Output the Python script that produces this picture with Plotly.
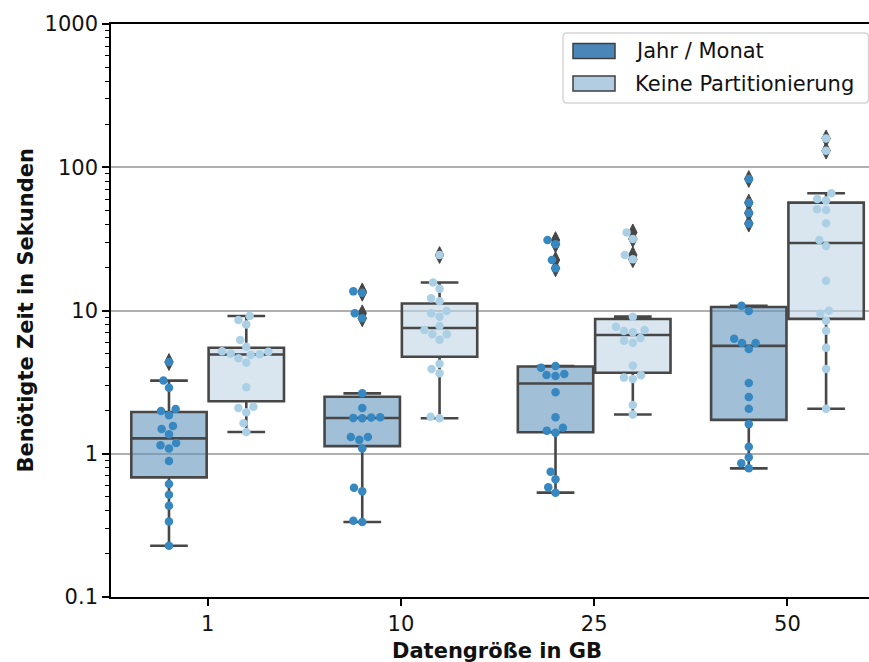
import numpy as np
import plotly.graph_objects as go

# ---------------- data ----------------
categories = ["1", "10", "25", "50"]
series_names = ["Jahr / Monat", "Keine Partitionierung"]

jahr_1gb = [0.228, 0.336, 0.434, 0.518, 0.615, 0.89, 1.09, 1.145, 1.19, 1.37,
            1.49, 1.56, 1.86, 1.99, 2.05, 2.89, 3.24, 4.37]
jahr_10gb = [0.334, 0.341, 0.547, 0.579, 1.09, 1.25, 1.31, 1.31, 1.77, 1.78,
             1.79, 1.80, 2.09, 2.64, 8.82, 9.56, 13.3, 13.6]
jahr_25gb = [0.535, 0.583, 0.664, 0.75, 1.40, 1.45, 1.52, 1.80, 2.69, 3.49,
             3.55, 3.60, 3.98, 4.10, 19.7, 22.5, 29.0, 31.0]
jahr_50gb = [0.791, 0.857, 0.945, 1.12, 1.61, 2.06, 2.49, 3.12, 5.39, 5.93,
             5.93, 6.36, 9.92, 10.8, 40.4, 47.9, 56.6, 82.8]

keine_1gb = [1.42, 1.63, 1.95, 2.09, 2.13, 2.91, 4.32, 4.64, 4.90, 4.95,
             5.00, 5.15, 5.20, 5.59, 6.22, 8.00, 8.58, 9.15]
keine_10gb = [1.77, 1.81, 3.65, 3.90, 4.25, 6.26, 6.82, 6.82, 7.31, 7.79,
              9.06, 9.57, 9.92, 11.6, 12.2, 14.2, 15.7, 24.4]
keine_25gb = [1.88, 2.19, 3.32, 3.40, 3.53, 4.12, 5.96, 6.15, 6.43, 7.05,
              7.19, 7.31, 7.70, 9.06, 22.8, 24.4, 31.6, 35.1]
keine_50gb = [2.06, 3.91, 5.50, 7.23, 8.49, 9.50, 9.97, 16.1, 28.2, 31.0,
              40.6, 50.3, 50.9, 58.5, 60.0, 65.8, 130.5, 159.0]

jahr_monat = [jahr_1gb, jahr_10gb, jahr_25gb, jahr_50gb]
keine_partitionierung = [keine_1gb, keine_10gb, keine_25gb, keine_50gb]

y_tick_values = [0.1, 1, 10, 100, 1000]

# ---------------- style ----------------
W, H = 869, 662
M_L, M_R, M_T, M_B = 111, 0, 24, 65
X_RANGE = [-0.5, 3.422]
Y_RANGE = [-1, 3]
PLOT_W = W - M_L - M_R
PLOT_H = H - M_T - M_B
PX_PER_UNIT = PLOT_W / (X_RANGE[1] - X_RANGE[0])
PX_PER_DECADE = PLOT_H / (Y_RANGE[1] - Y_RANGE[0])

FONT = "DejaVu Sans"
FS = 21
LINE_GRAY = "#474747"
DODGE = [-0.2, 0.2]
BOX_WIDTH = 0.39
POINT_COLORS = ["#3787c0", "#abd0e6"]
BOX_FILLS = ["rgba(98,150,190,0.6)", "rgba(192,213,228,0.6)"]
LEGEND_COLORS = ["#4a86b8", "#b2cde2"]
SWARM_D = 9.0  # px spacing of swarm points


def box_stats(vals):
    v = np.sort(np.asarray(vals, float))
    q1, med, q3 = np.percentile(v, [25, 50, 75])
    iqr = q3 - q1
    lo = v[v >= q1 - 1.5 * iqr].min()
    hi = v[v <= q3 + 1.5 * iqr].max()
    return q1, med, q3, lo, hi


def swarm_offsets(vals, d):
    y = np.log10(np.asarray(vals, float)) * PX_PER_DECADE
    order = np.argsort(y, kind="stable")
    placed = []
    offs = np.zeros(len(y))
    for i in order:
        yi = y[i]
        nb = [(px, py) for px, py in placed if abs(py - yi) < d]
        cands = [0.0]
        for px, py in nb:
            dx = np.sqrt(d * d - (py - yi) ** 2)
            cands += [px - dx, px + dx]
        cands.sort(key=abs)
        chosen = cands[-1]
        for c in cands:
            if all((c - px) ** 2 + (yi - py) ** 2 >= d * d - 1e-6 for px, py in nb):
                chosen = c
                break
        offs[i] = chosen
        placed.append((chosen, yi))
    return offs / PX_PER_UNIT


fig = go.Figure()

all_series = [jahr_monat, keine_partitionierung]

# boxes
for s, series in enumerate(all_series):
    stats = [box_stats(v) for v in series]
    fig.add_trace(go.Box(
        x=[i + DODGE[s] for i in range(len(categories))],
        q1=[st[0] for st in stats],
        median=[st[1] for st in stats],
        q3=[st[2] for st in stats],
        lowerfence=[st[3] for st in stats],
        upperfence=[st[4] for st in stats],
        width=BOX_WIDTH,
        whiskerwidth=0.5,
        fillcolor=BOX_FILLS[s],
        line=dict(color=LINE_GRAY, width=2.6),
        boxpoints=False,
        name=series_names[s],
        showlegend=False,
        hoverinfo="skip",
    ))

# outliers (diamonds)
for s, series in enumerate(all_series):
    ox, oy = [], []
    for i, vals in enumerate(series):
        q1, med, q3, lo, hi = box_stats(vals)
        for v in vals:
            if v > hi or v < lo:
                ox.append(i + DODGE[s])
                oy.append(v)
    fig.add_trace(go.Scatter(
        x=ox, y=oy, mode="markers",
        marker=dict(symbol="diamond-tall", size=12, color=LINE_GRAY,
                    line=dict(color=LINE_GRAY, width=1)),
        showlegend=False, hoverinfo="skip",
    ))

# swarm points
for s, series in enumerate(all_series):
    px_, py_ = [], []
    for i, vals in enumerate(series):
        offs = swarm_offsets(vals, SWARM_D)
        for v, o in zip(vals, offs):
            px_.append(i + DODGE[s] + o)
            py_.append(v)
    fig.add_trace(go.Scatter(
        x=px_, y=py_, mode="markers",
        marker=dict(size=8.5, color=POINT_COLORS[s], line=dict(width=0)),
        name=series_names[s], showlegend=False,
    ))

# ---------------- legend (drawn manually) ----------------
def px2paper_x(px):
    return (px - M_L) / PLOT_W


def px2paper_y(py):
    return (H - M_B - py) / PLOT_H


def rounded_rect_path(x0, y0, x1, y1, r):
    # pixel coordinates -> paper coordinates path with rounded corners
    pts = []
    X = px2paper_x
    Y = px2paper_y
    rx = r / PLOT_W
    ry = r / PLOT_H
    a, b, c, d = X(x0), Y(y1), X(x1), Y(y0)  # left, bottom, right, top
    return (f"M{a+rx},{d} L{c-rx},{d} Q{c},{d} {c},{d-ry} "
            f"L{c},{b+ry} Q{c},{b} {c-rx},{b} L{a+rx},{b} Q{a},{b} {a},{b+ry} "
            f"L{a},{d-ry} Q{a},{d} {a+rx},{d} Z")


shapes = [dict(type="path", xref="paper", yref="paper",
               path=rounded_rect_path(563, 33, 868.5, 103, 4),
               line=dict(color="#d6d6d6", width=1.5),
               fillcolor="rgba(255,255,255,0.85)", layer="above")]
annotations = []
for k, (name, col) in enumerate(zip(series_names, LEGEND_COLORS)):
    yc = 51 + k * 32.5
    shapes.append(dict(type="rect", xref="paper", yref="paper",
                       x0=px2paper_x(573), x1=px2paper_x(615),
                       y0=px2paper_y(yc + 7.5), y1=px2paper_y(yc - 7.5),
                       line=dict(color="#3f3f3f", width=1.5),
                       fillcolor=col, layer="above"))
    annotations.append(dict(xref="paper", yref="paper",
                            x=px2paper_x(633), y=px2paper_y(yc),
                            xanchor="left", yanchor="middle",
                            text=name, showarrow=False,
                            font=dict(family=FONT, size=FS, color="#111111")))

# axis titles
annotations.append(dict(xref="paper", yref="paper", x=0.5086, y=px2paper_y(651),
                        xanchor="center", yanchor="middle", showarrow=False,
                        text="Datengröße in GB",
                        font=dict(family=FONT, size=FS, color="#111111", weight="bold")))
annotations.append(dict(xref="paper", yref="paper", x=px2paper_x(25), y=0.5,
                        xanchor="center", yanchor="middle", showarrow=False,
                        textangle=-90, text="Benötigte Zeit in Sekunden",
                        font=dict(family=FONT, size=FS, color="#111111", weight="bold")))

fig.update_layout(
    width=W, height=H,
    margin=dict(l=M_L, r=M_R, t=M_T, b=M_B, pad=0),
    plot_bgcolor="white", paper_bgcolor="white",
    font=dict(family=FONT, size=FS, color="#111111"),
    shapes=shapes, annotations=annotations,
    showlegend=False,
)
fig.update_xaxes(
    range=X_RANGE, tickmode="array", tickvals=list(range(len(categories))),
    ticktext=categories, showgrid=False, zeroline=False,
    showline=True, linecolor="black", linewidth=1.6, mirror=True,
    ticks="outside", ticklen=7, tickwidth=1.6, tickcolor="black",
    tickfont=dict(family=FONT, size=FS, color="#111111"),
)
fig.update_yaxes(
    type="log", range=Y_RANGE, tickmode="array", tickvals=y_tick_values,
    ticktext=[("%g" % v) for v in y_tick_values],
    showgrid=True, gridcolor="#b0b0b0", gridwidth=1.6, zeroline=False,
    showline=True, linecolor="black", linewidth=1.6, mirror=False,
    ticks="outside", ticklen=7, tickwidth=1.6, tickcolor="black",
    tickfont=dict(family=FONT, size=FS, color="#111111"),
    minor=dict(ticks="outside", ticklen=4, tickwidth=1.2, tickcolor="black",
               dtick="D1", showgrid=False),
)

fig.write_html(
    "out.html",
    config={"displayModeBar": False},
    post_script="document.body.style.margin='0';document.body.style.overflow='hidden';",
)
